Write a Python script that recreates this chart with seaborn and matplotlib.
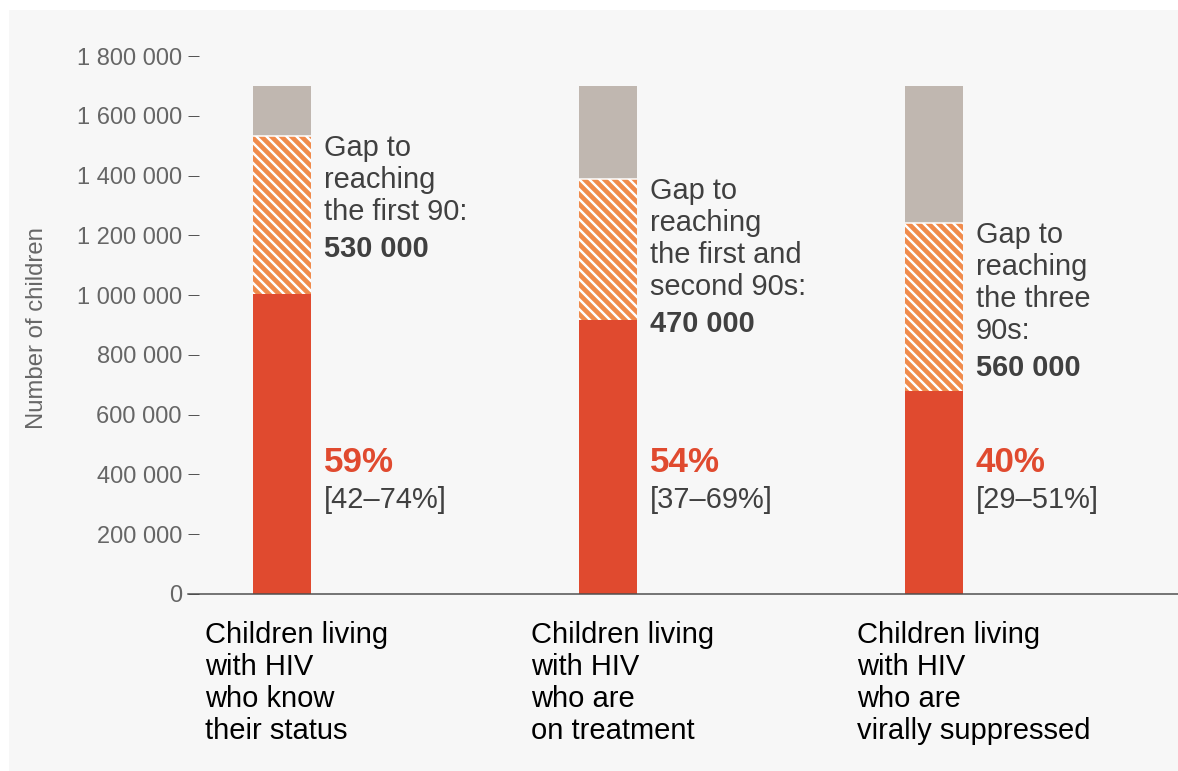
import matplotlib
matplotlib.use("Agg")
import matplotlib.pyplot as plt
from matplotlib.patches import Rectangle
from matplotlib.ticker import FuncFormatter
import numpy as np
import pandas as pd
import seaborn as sns

# ---- data -------------------------------------------------------------
stages = [
    "Children living\nwith HIV\nwho know\ntheir status",
    "Children living\nwith HIV\nwho are\non treatment",
    "Children living\nwith HIV\nwho are\nvirally suppressed",
]
total_children = [1_700_000, 1_700_000, 1_700_000]
percent_reached = [59, 54, 40]
percent_ranges = ["[42–74%]", "[37–69%]", "[29–51%]"]
gap_to_target = [530_000, 470_000, 560_000]
gap_captions = [
    "Gap to\nreaching\nthe first 90:",
    "Gap to\nreaching\nthe first and\nsecond 90s:",
    "Gap to\nreaching\nthe three\n90s:",
]
y_ticks = np.arange(0, 1_800_001, 200_000)

# ---- derived stacks ---------------------------------------------------
df = pd.DataFrame({
    "stage": stages,
    "total": total_children,
    "reached": [p / 100 * t for p, t in zip(percent_reached, total_children)],
})
df["gap_top"] = df["reached"] + np.array(gap_to_target)

# ---- style ------------------------------------------------------------
sns.set_style("white")
plt.rcParams["font.family"] = ["Liberation Sans", "DejaVu Sans"]
plt.rcParams["hatch.linewidth"] = 1.45

RED = "#e04a2f"
ORANGE = "#f08b4c"
GREY_BAR = "#c0b7b0"
TEXT = "#404040"
TICK = "#666666"
STRIPES = chr(92) * 4  # quadruple back-slash hatch: dense diagonal stripes

DPI = 120
W, H = 1178, 771
fig = plt.figure(figsize=(W / DPI, H / DPI), dpi=DPI, facecolor="white")
fig.add_artist(Rectangle((9 / W, 0), 1, 1 - 10 / H, transform=fig.transFigure,
                         facecolor="#f7f7f7", edgecolor="none", zorder=-5))

ax_l, ax_r, ax_t, ax_b = 188, 1178, 56, 594
ax = fig.add_axes([ax_l / W, (H - ax_b) / H, (ax_r - ax_l) / W, (ax_b - ax_t) / H])
ax.set_facecolor("none")

bar_w = 58 / 326
common = dict(x="stage", width=bar_w, errorbar=None, linewidth=0, saturation=1, ax=ax)
sns.barplot(data=df, y="total", color=GREY_BAR, edgecolor="none", **common)
sns.barplot(data=df, y="gap_top", color=ORANGE, edgecolor="white", hatch=STRIPES, **common)
sns.barplot(data=df, y="reached", color=RED, edgecolor="none", **common)

# thin white seam between the grey remainder and the hatched gap
ax.hlines(df["gap_top"], np.arange(len(df)) - bar_w / 2, np.arange(len(df)) + bar_w / 2,
          color="white", linewidth=0.9, zorder=4)

ax.set_xlim(-(282 - ax_l) / 326, 2 + (ax_r - 934) / 326)
ax.set_ylim(0, 1_800_000)
ax.set_yticks(y_ticks)
ax.yaxis.set_major_formatter(FuncFormatter(lambda v, _: f"{int(v):,}".replace(",", " ")))
ax.set_xticks([])
ax.set_xlabel("")
ax.tick_params(axis="y", direction="in", length=6.3, width=0.6, color="#555555",
               pad=3.6, labelsize=14.2, labelcolor=TICK, left=True)
ax.set_ylabel("Number of children", fontsize=14.3, color=TICK)
ax.yaxis.set_label_coords(-(ax_l - 48) / (ax_r - ax_l), 0.494)

for side in ("left", "right", "top"):
    ax.spines[side].set_visible(False)
ax.spines["bottom"].set_color("#4d4d4d")
ax.spines["bottom"].set_linewidth(0.9)
ax.spines["bottom"].set_zorder(5)


def stacked_lines(lines, xy, xycoords, dx, first_base, step, **kw):
    for k, line in enumerate(lines):
        ax.annotate(line, xy=xy, xycoords=xycoords,
                    xytext=(dx, -(first_base + k * step)), textcoords="offset pixels",
                    ha="left", va="baseline", annotation_clip=False, **kw)


for i, row in df.iterrows():
    right = i + bar_w / 2
    # gap caption next to the hatched segment
    cap_lines = gap_captions[i].split("\n")
    stacked_lines(cap_lines, (right, row["gap_top"]), "data", 13, 20, 32,
                  fontsize=17.4, color=TEXT)
    last = 20 + 32 * (len(cap_lines) - 1) + 37
    stacked_lines([f"{gap_to_target[i]:,}".replace(",", " ")], (right, row["gap_top"]),
                  "data", 13, last, 0, fontsize=17.4, color=TEXT, fontweight="bold")
    # percentage reached and its uncertainty range
    ax.annotate(f"{percent_reached[i]}%", xy=(right, 0.2268),
                xycoords=("data", "axes fraction"), xytext=(13, 0),
                textcoords="offset pixels", ha="left", va="baseline",
                fontsize=21, fontweight="bold", color=RED)
    ax.annotate(percent_ranges[i], xy=(right, 0.2268),
                xycoords=("data", "axes fraction"), xytext=(13, -36),
                textcoords="offset pixels", ha="left", va="baseline",
                fontsize=17.4, color=TEXT)
    # category label under the axis
    stacked_lines(stages[i].split("\n"), (i, 0), "data", -77, 49, 32,
                  fontsize=17.5, color="black")

fig.savefig("out.png", dpi=DPI, facecolor="white")
